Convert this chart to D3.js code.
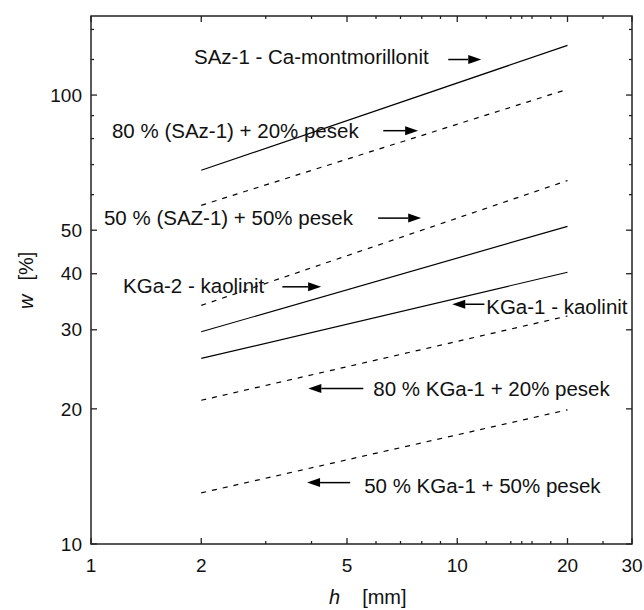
<!DOCTYPE html>
<html>
<head>
<meta charset="utf-8">
<script src="https://d3js.org/d3.v7.min.js"></script>
<style>
  body { margin: 0; background: #fff; }
  svg { display: block; font-family: "Liberation Sans", Arial, sans-serif; }
</style>
</head>
<body>
<svg id="chart"></svg>
<script>
// h [mm] where each line starts and ends
const hValues = [2, 20];

// w [%] at h = 2 and h = 20
const sazPure = [68, 129];
const saz80 = [56.8, 103];
const saz50 = [34, 64.5];
const kga2 = [29.7, 51];
const kga1 = [25.9, 40.3];
const kga1Sand80 = [20.9, 32.2];
const kga1Sand50 = [13, 19.9];

const seriesValues = [sazPure, saz80, saz50, kga2, kga1, kga1Sand80, kga1Sand50];
const seriesDashed = [false, true, true, false, false, true, true];

// tick values
const xTickLabels = [1, 2, 5, 10, 20, 30];
const xMinorTicks = [3, 4, 6, 7, 8, 9, 12, 14, 15, 16, 18, 25];
const yTickLabels = [10, 20, 30, 40, 50, 100];
const yMinorTicks = [60, 70, 80, 90, 120, 140];

// annotation texts, placed in data units (h, w)
const labelTexts = [
  "SAz-1 - Ca-montmorillonit",
  "80 % (SAz-1) + 20% pesek",
  "50 % (SAZ-1) + 50% pesek",
  "KGa-2 - kaolinit",
  "KGa-1 - kaolinit",
  "80 % KGa-1 + 20% pesek",
  "50 % KGa-1 + 50% pesek"
];
const labelH = [1.911, 1.141, 1.085, 1.223, 12.0, 5.9, 5.57];
const labelW = [121.5, 83.1, 53.4, 37.5, 33.8, 22.2, 13.5];

// arrows: tail h -> head h at w
const arrowFromH = [9.45, 6.28, 6.08, 3.33, 11.86, 5.54, 5.10];
const arrowToH = [11.63, 7.82, 7.97, 4.25, 9.69, 3.92, 3.89];
const arrowW = [120, 83.3, 53.2, 37.4, 34.2, 22.2, 13.7];

renderChart();

function renderChart() {
  const width = 644;
  const height = 610;

  const svg = d3.select("#chart").attr("width", width).attr("height", height);

  const left = 91, right = 632, top = 16, bottom = 544;

  const x = d3.scaleLog().domain([1, 30]).range([left, right]);
  const y = d3.scaleLog().domain([10, 150]).range([bottom, top]);

  const tickColor = "#222";

  // ticks on all four sides, pointing inward
  const majorLen = 6, minorLen = 3;
  const xAll = xTickLabels.map((v) => ({ v, len: majorLen }))
    .concat(xMinorTicks.map((v) => ({ v, len: minorLen })));
  const yAll = yTickLabels.map((v) => ({ v, len: majorLen }))
    .concat(yMinorTicks.map((v) => ({ v, len: minorLen })));

  const ticks = svg.append("g").attr("stroke", tickColor).attr("stroke-width", 1.3);

  xAll.forEach((t) => {
    ticks.append("line")
      .attr("x1", x(t.v)).attr("x2", x(t.v))
      .attr("y1", bottom).attr("y2", bottom - t.len);
    ticks.append("line")
      .attr("x1", x(t.v)).attr("x2", x(t.v))
      .attr("y1", top).attr("y2", top + t.len);
  });
  yAll.forEach((t) => {
    ticks.append("line")
      .attr("y1", y(t.v)).attr("y2", y(t.v))
      .attr("x1", left).attr("x2", left + t.len);
    ticks.append("line")
      .attr("y1", y(t.v)).attr("y2", y(t.v))
      .attr("x1", right).attr("x2", right - t.len);
  });

  // frame
  svg.append("rect")
    .attr("x", left).attr("y", top)
    .attr("width", right - left).attr("height", bottom - top)
    .attr("fill", "none")
    .attr("stroke", tickColor)
    .attr("stroke-width", 1.5);

  // tick labels
  svg.append("g")
    .selectAll("text")
    .data(xTickLabels)
    .enter()
    .append("text")
    .attr("x", (d) => x(d))
    .attr("y", 572)
    .attr("text-anchor", "middle")
    .attr("font-size", 19)
    .attr("fill", "#111")
    .text((d) => d);

  svg.append("g")
    .selectAll("text")
    .data(yTickLabels)
    .enter()
    .append("text")
    .attr("x", 82)
    .attr("y", (d) => y(d))
    .attr("dy", "0.35em")
    .attr("text-anchor", "end")
    .attr("font-size", 19)
    .attr("fill", "#111")
    .text((d) => d);

  // axis titles
  const xTitle = svg.append("text")
    .attr("x", 329)
    .attr("y", 604)
    .attr("font-size", 20)
    .attr("fill", "#111");
  xTitle.append("tspan").attr("font-style", "italic").text("h");
  xTitle.append("tspan").attr("dx", 22).text("[mm]");

  const yTitle = svg.append("text")
    .attr("transform", "translate(33,309) rotate(-90)")
    .attr("font-size", 20)
    .attr("fill", "#111");
  yTitle.append("tspan").attr("font-style", "italic").text("w");
  yTitle.append("tspan").attr("dx", 14).text("[%]");

  // the lines
  const line = d3.line()
    .x((d) => x(d[0]))
    .y((d) => y(d[1]));

  seriesValues.forEach((vals, i) => {
    const pts = hValues.map((h, j) => [h, vals[j]]);
    svg.append("path")
      .datum(pts)
      .attr("d", line)
      .attr("fill", "none")
      .attr("stroke", "#000")
      .attr("stroke-width", 1.2)
      .attr("stroke-dasharray", seriesDashed[i] ? "5,6" : null);
  });

  // annotation labels
  svg.append("g")
    .selectAll("text")
    .data(labelTexts)
    .enter()
    .append("text")
    .attr("x", (d, i) => x(labelH[i]))
    .attr("y", (d, i) => y(labelW[i]))
    .attr("dy", "0.35em")
    .attr("font-size", 20.5)
    .attr("fill", "#111")
    .text((d) => d);

  // arrows
  const headLen = 13, headHalf = 4.5;
  arrowW.forEach((w, i) => {
    const x1 = x(arrowFromH[i]);
    const x2 = x(arrowToH[i]);
    const yy = y(w);
    const dir = x2 > x1 ? 1 : -1;
    svg.append("line")
      .attr("x1", x1).attr("x2", x2 - dir * headLen)
      .attr("y1", yy).attr("y2", yy)
      .attr("stroke", "#000")
      .attr("stroke-width", 1.5);
    svg.append("path")
      .attr("d", `M${x2},${yy} L${x2 - dir * headLen},${yy - headHalf} L${x2 - dir * headLen},${yy + headHalf} Z`)
      .attr("fill", "#000");
  });
}
</script>
</body>
</html>
